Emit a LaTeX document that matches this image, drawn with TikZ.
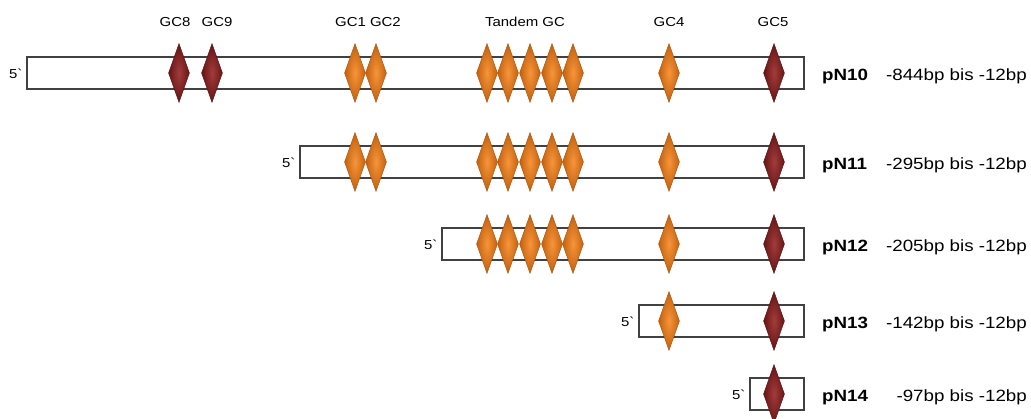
\documentclass[tikz,border=0pt]{standalone}
\usepackage{fontspec}
\setmainfont{Liberation Sans}[FakeStretch=1.15]
\usetikzlibrary{shapes.geometric}

\definecolor{boxline}{HTML}{414141}
\definecolor{orangein}{HTML}{F6953A}
\definecolor{orangeout}{HTML}{C4600E}
\definecolor{redin}{HTML}{A33C3C}
\definecolor{redout}{HTML}{661414}

\tikzset{
  seqbox/.style={rectangle, draw=boxline, line width=1.6pt, fill=white,
    minimum height=32pt, inner sep=0pt, anchor=west},
  gcsite/.style={diamond, inner sep=0pt, minimum width=21pt, minimum height=59pt},
  orangesite/.style={gcsite, inner color=orangein, outer color=orangeout,
    draw=orangeout!85!black, line width=0.4pt},
  redsite/.style={gcsite, inner color=redin, outer color=redout,
    draw=redout!85!black, line width=0.4pt},
  sitelabel/.style={anchor=base, inner sep=0pt, font=\fontsize{13}{13}\selectfont},
  endlabel/.style={anchor=base, inner sep=0pt, font=\fontsize{13}{13}\selectfont},
  constrname/.style={anchor=base west, inner sep=0pt, font=\bfseries\fontsize{16.3}{16}\selectfont},
  rangelabel/.style={anchor=base east, inner sep=0pt, font=\fontsize{16.3}{16}\selectfont}
}

\begin{document}
\begin{tikzpicture}[x=1pt, y=-1pt]
\useasboundingbox (0,0) rectangle (1031,418);

% site names above the longest construct
\node[sitelabel] (lGC8) at (175,26) {GC8};
\node[sitelabel] (lGC9) at (217,26) {GC9};
\node[sitelabel] (lGC12) at (368,26) {GC1 GC2};
\node[sitelabel] (lTand) at (525,26) {Tandem GC};
\node[sitelabel] (lGC4) at (669,26) {GC4};
\node[sitelabel] (lGC5) at (773,26) {GC5};

% promoter constructs: row / y / left end of box / name / range
\foreach \r/\y/\xl/\nm/\rg in {
    1/73/26/pN10/-844bp bis -12bp,
    2/162/299/pN11/-295bp bis -12bp,
    3/244/441/pN12/-205bp bis -12bp,
    4/321/638/pN13/-142bp bis -12bp,
    5/394/749/pN14/-97bp bis -12bp} {
  \pgfmathsetmacro{\w}{803-\xl}
  \node[seqbox, minimum width=\w pt] (box\r) at (\xl,\y) {};
  \node[endlabel, anchor=base east] (five\r) at ([xshift=-4pt, yshift=-5pt]box\r.west) {5\textasciigrave};
  \node[constrname] (name\r) at (822,\y+7) {\nm};
  \node[rangelabel] (range\r) at (1027,\y+7) {\rg};
}

% GC boxes
\foreach \x/\s in {179/redsite, 212/redsite}
  \node[\s] (a\x) at (\x,73) {};
\foreach \r/\y in {1/73, 2/162}
  \foreach \x in {355,376}
    \node[orangesite] (s\r-\x) at (\x,\y) {};
\foreach \r/\y in {1/73, 2/162, 3/244}
  \foreach \x in {487,508,530,552,573}
    \node[orangesite] (t\r-\x) at (\x,\y) {};
\foreach \r/\y in {1/73, 2/162, 3/244, 4/321}
  \node[orangesite] (g4-\r) at (669,\y) {};
\foreach \r/\y in {1/73, 2/162, 3/244, 4/321, 5/394}
  \node[redsite] (g5-\r) at (774,\y) {};
\end{tikzpicture}
\end{document}
